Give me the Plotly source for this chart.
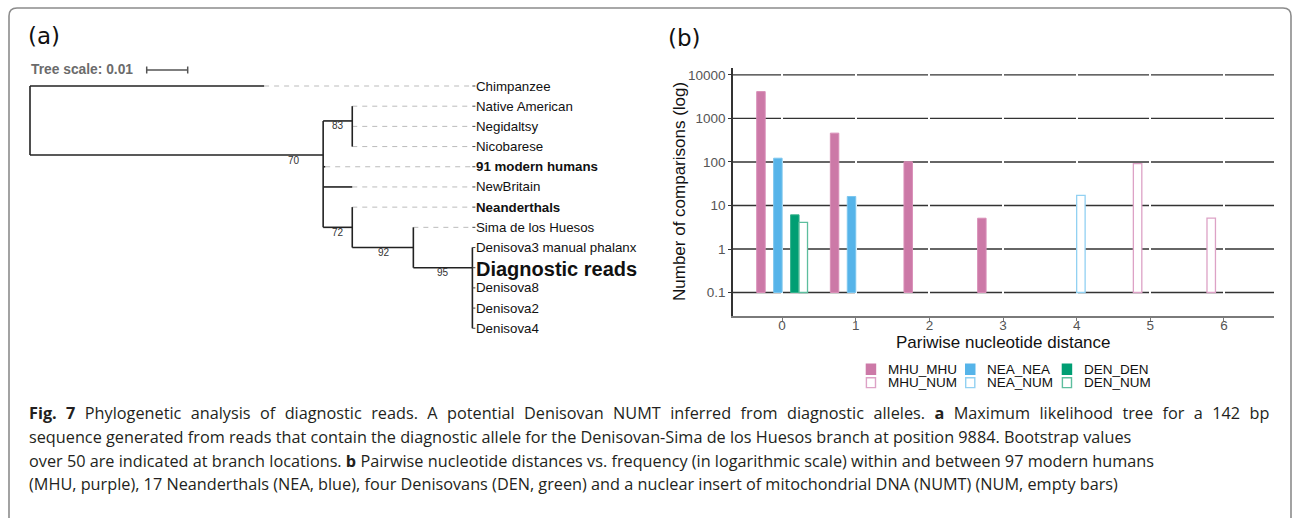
import plotly.graph_objects as go

W, H = 1293, 518

# ---------------- panel (b) data ----------------
distances = [0, 1, 2, 3, 4, 5, 6]
x_tick_text = ["0", "1", "2", "3", "4", "5", "6"]
series_names = ["MHU_MHU", "MHU_NUM", "NEA_NEA", "NEA_NUM", "DEN_DEN", "DEN_NUM"]
mhu_mhu = [4140, 460, 101, 5, None, None, None]
mhu_num = [None, None, None, None, None, 92, 5]
nea_nea = [122, 16, None, None, None, None, None]
nea_num = [None, None, None, None, 17, None, None]
den_den = [6, None, None, None, None, None, None]
den_num = [4, None, None, None, None, None, None]
bar_base = 0.1
y_tick_vals = [0.1, 1, 10, 100, 1000, 10000]
y_tick_text = ["0.1", "1", "10", "100", "1000", "10000"]

# ---------------- panel (a) data ----------------
leaf_names = ["Chimpanzee", "Native American", "Negidaltsy", "Nicobarese",
              "91 modern humans", "NewBritain", "Neanderthals",
              "Sima de los Huesos", "Denisova3 manual phalanx",
              "Diagnostic reads", "Denisova8", "Denisova2", "Denisova4"]
leaf_parent = ["root", "N83", "N83", "N83", "A", "A", "N72", "N92",
               "N95", "N95", "N95", "N95", "N95"]
leaf_depth = [0.0571, 0.0786, 0.0786, 0.0786, 0.0720, 0.0786, 0.0786,
              0.0935, 0.1079, 0.1079, 0.1079, 0.1079, 0.1079]
leaf_bold = [False, False, False, False, True, False, True, False,
             False, True, False, False, False]
node_names = ["root", "A", "N83", "N72", "N92", "N95"]
node_parent = [None, "root", "A", "A", "N72", "N92"]
node_depth = [0.0, 0.0715, 0.0786, 0.0786, 0.0935, 0.1079]
node_row = [1.7, 3.42, 1.73, 7.0, 8.0, 9.0]
node_support = [None, 70, 83, 72, 92, 95]
tree_scale = 0.01

# ---------------- helpers (layout) ----------------
def px(x):
    return x / W

def py(y):
    return 1 - y / H

PX_PER_UNIT = 4100.0
ROW_PX = 20.19
ROW0_PX = 86.0
TREE_X0 = 30.0

COL = {"MHU": "#CC79A7", "NEA": "#56B4E9", "DEN": "#009E73"}
EDGE_FILLED = {"MHU": "#D98FB8", "NEA": "#7CC6EE", "DEN": "#33B08A"}
EDGE_EMPTY = {"MHU": "#DDA2C6", "NEA": "#92D1F2", "DEN": "#5DBE9E"}
AX_FONT = "Liberation Sans, Arial, sans-serif"

fig = go.Figure()

# ---------------- bars ----------------
series_vals = [mhu_mhu, mhu_num, nea_nea, nea_num, den_den, den_num]
for name, vals in zip(series_names, series_vals):
    grp, kind = name.split("_")
    empty = kind == "NUM"
    fig.add_trace(go.Bar(
        x=distances, y=vals, base=bar_base, name=name,
        marker=dict(color="white" if empty else COL[grp],
                    line=dict(color=EDGE_EMPTY[grp] if empty else EDGE_FILLED[grp],
                              width=1.3 if empty else 1)),
        showlegend=False, xaxis="x", yaxis="y"))

# ---------------- tree ----------------
depth_of = dict(zip(node_names, node_depth))
row_of = dict(zip(node_names, node_row))
align = max(leaf_depth)

solid_x, solid_y = [], []
dash_x, dash_y = [], []
stub_x, stub_y = [], []

def seg(xs, ys, x0, y0, x1, y1):
    xs += [x0, x1, None]
    ys += [y0, y1, None]

children_rows = {n: [] for n in node_names}
for i, (nm, par, d) in enumerate(zip(leaf_names, leaf_parent, leaf_depth)):
    seg(solid_x, solid_y, depth_of[par], i, d, i)
    children_rows[par].append(i)
    if d < align:
        seg(dash_x, dash_y, d, i, align, i)
    seg(stub_x, stub_y, align, i, align + 3 / PX_PER_UNIT, i)
for nm, par in zip(node_names, node_parent):
    if par is not None:
        seg(solid_x, solid_y, depth_of[par], row_of[nm], depth_of[nm], row_of[nm])
        children_rows[par].append(row_of[nm])
for nm in node_names:
    rows = children_rows[nm]
    seg(solid_x, solid_y, depth_of[nm], min(rows), depth_of[nm], max(rows))

fig.add_trace(go.Scatter(x=dash_x, y=dash_y, mode="lines",
                         line=dict(color="#BBBBBB", width=1, dash="5px,5px"),
                         showlegend=False, hoverinfo="skip", xaxis="x2", yaxis="y2"))
fig.add_trace(go.Scatter(x=solid_x, y=solid_y, mode="lines",
                         line=dict(color="#222222", width=1.6),
                         showlegend=False, hoverinfo="skip", xaxis="x2", yaxis="y2"))
fig.add_trace(go.Scatter(x=stub_x, y=stub_y, mode="lines",
                         line=dict(color="#444444", width=1),
                         showlegend=False, hoverinfo="skip", xaxis="x2", yaxis="y2"))

# tree scale bar
sb_x0 = (146.7 - TREE_X0) / PX_PER_UNIT
sb_row = (70 - ROW0_PX) / ROW_PX
tick_h = 3.5 / ROW_PX
fig.add_trace(go.Scatter(
    x=[sb_x0, sb_x0 + tree_scale, None, sb_x0, sb_x0, None, sb_x0 + tree_scale, sb_x0 + tree_scale],
    y=[sb_row, sb_row, None, sb_row - tick_h, sb_row + tick_h, None, sb_row - tick_h, sb_row + tick_h],
    mode="lines", line=dict(color="#555555", width=1.5),
    showlegend=False, hoverinfo="skip", xaxis="x2", yaxis="y2"))

annotations = []

# leaf labels
for i, (nm, b) in enumerate(zip(leaf_names, leaf_bold)):
    big = nm == "Diagnostic reads"
    annotations.append(dict(
        x=align, y=i, xref="x2", yref="y2", xanchor="left", yanchor="middle",
        xshift=2, yshift=-1 if big else 0, showarrow=False,
        text=f"<b>{nm}</b>" if b else nm,
        font=dict(family=AX_FONT, size=20 if big else 13.3, color="#111111")))

# bootstrap labels
for nm, par, d, r, s in zip(node_names, node_parent, node_depth, node_row, node_support):
    if s is None:
        continue
    pdp = depth_of[par]
    xl = max((pdp + d) / 2, d - 29 / PX_PER_UNIT)
    annotations.append(dict(
        x=xl, y=r, xref="x2", yref="y2", xanchor="center", yanchor="middle",
        yshift=-5, showarrow=False, text=str(s),
        font=dict(family=AX_FONT, size=10, color="#333333")))

annotations.append(dict(x=px(29), y=py(70), xref="paper", yref="paper",
                        xanchor="left", yanchor="middle", showarrow=False,
                        text="<b>Tree scale: 0.01</b>",
                        font=dict(family=AX_FONT, size=13.8, color="#6b6b6b")))

# panel letters
annotations.append(dict(x=px(26), y=py(36), xref="paper", yref="paper",
                        xanchor="left", yanchor="middle", showarrow=False, text="(a)",
                        font=dict(family="DejaVu Sans", size=23, color="#111111")))
annotations.append(dict(x=px(666), y=py(38), xref="paper", yref="paper",
                        xanchor="left", yanchor="middle", showarrow=False, text="(b)",
                        font=dict(family="DejaVu Sans", size=23, color="#111111")))

# axis titles
annotations.append(dict(x=px(680), y=py(192), xref="paper", yref="paper",
                        xanchor="center", yanchor="middle", showarrow=False,
                        textangle=-90, text="Number of comparisons (log)",
                        font=dict(family=AX_FONT, size=17, color="#111111")))
annotations.append(dict(x=px(1003), y=py(342.5), xref="paper", yref="paper",
                        xanchor="center", yanchor="middle", showarrow=False,
                        text="Pariwise nucleotide distance",
                        font=dict(family=AX_FONT, size=17, color="#111111")))

# legend (manual 2 x 3 layout)
shapes = []
leg_cols = [("MHU", 865.7, 885.5), ("NEA", 965.0, 985.5), ("DEN", 1061.7, 1082.3)]
leg_rows = [("", 363.5, 375.0, 369.3), ("NUM", 377.0, 388.3, 382.5)]
for grp, kx, tx in leg_cols:
    for kind, y0, y1, ty in leg_rows:
        empty = kind == "NUM"
        label = f"{grp}_{'NUM' if empty else grp}"
        shapes.append(dict(type="rect", xref="paper", yref="paper",
                           x0=px(kx + (0.7 if empty else 0)), x1=px(kx + 10.5 - (0.7 if empty else 0)),
                           y0=py(y1 - (0.7 if empty else 0)), y1=py(y0 + (0.7 if empty else 0)),
                           fillcolor="white" if empty else COL[grp],
                           line=dict(color=EDGE_EMPTY[grp] if empty else COL[grp],
                                     width=1.4 if empty else 0)))
        annotations.append(dict(x=px(tx), y=py(ty), xref="paper", yref="paper",
                                xanchor="left", yanchor="middle", showarrow=False,
                                text=label,
                                font=dict(family=AX_FONT, size=13.5, color="#111111")))

# horizontal grid lines (drawn beneath the white vertical x-grid so they show gaps at ticks)
for v in y_tick_vals:
    shapes.append(dict(type="line", xref="paper", yref="y", x0=px(733), x1=px(1274),
                       y0=v, y1=v, line=dict(color="#333333", width=1.3), layer="below"))

# frame
fx0, fx1, fy0, r = 9, 1291, 8, 8
path = (f"M {px(fx0)},{py(H + 5)} L {px(fx0)},{py(fy0 + r)} "
        f"Q {px(fx0)},{py(fy0)} {px(fx0 + r)},{py(fy0)} "
        f"L {px(fx1 - r)},{py(fy0)} Q {px(fx1)},{py(fy0)} {px(fx1)},{py(fy0 + r)} "
        f"L {px(fx1)},{py(H + 5)}")
shapes.append(dict(type="path", xref="paper", yref="paper", path=path,
                   line=dict(color="#8c8c8c", width=1.6)))

# caption (first line is justified in the original)
caption_lines = [
    "<span style=\"word-spacing:5.2px\"><b>Fig. 7</b> Phylogenetic analysis of diagnostic reads. A potential Denisovan NUMT inferred from diagnostic alleles. <b>a</b> Maximum likelihood tree for a 142 bp</span>",
    "sequence generated from reads that contain the diagnostic allele for the Denisovan-Sima de los Huesos branch at position 9884. Bootstrap values",
    "over 50 are indicated at branch locations. <b>b</b> Pairwise nucleotide distances vs. frequency (in logarithmic scale) within and between 97 modern humans",
    "(MHU, purple), 17 Neanderthals (NEA, blue), four Denisovans (DEN, green) and a nuclear insert of mitochondrial DNA (NUMT) (NUM, empty bars)",
]
caption_y = [413, 437, 460.5, 484]
for txt, cy in zip(caption_lines, caption_y):
    annotations.append(dict(x=px(26.5), y=py(cy), xref="paper", yref="paper",
                            xanchor="left", yanchor="middle", showarrow=False, text=txt,
                            font=dict(family="Open Sans", size=16.25, color="#231f20")))

fig.update_layout(
    width=W, height=H, margin=dict(l=0, r=0, t=0, b=0),
    paper_bgcolor="white", plot_bgcolor="rgba(0,0,0,0)",
    barmode="group", bargap=0.31, bargroupgap=0,
    xaxis=dict(domain=[px(733), px(1274)], range=[-0.667, 6.68],
               tickvals=distances, ticktext=x_tick_text,
               showgrid=True, gridcolor="white", gridwidth=2, zeroline=False,
               showline=True, linecolor="#7a7a7a", linewidth=2,
               ticks="outside", ticklen=3, tickcolor="#7a7a7a",
               ticklabelstandoff=-7,
               tickfont=dict(family=AX_FONT, size=13.5, color="#555555"),
               anchor="y", fixedrange=True),
    yaxis=dict(domain=[py(316), py(68)], type="log", range=[-1.54, 4.16],
               tickvals=y_tick_vals, ticktext=y_tick_text,
               showgrid=False, zeroline=False,
               showline=True, linecolor="#333333", linewidth=1.5,
               ticks="outside", ticklen=3, tickcolor="#333333",
               tickfont=dict(family=AX_FONT, size=13.5, color="#555555"),
               anchor="x", fixedrange=True),
    xaxis2=dict(domain=[0, 1], range=[-TREE_X0 / PX_PER_UNIT, (W - TREE_X0) / PX_PER_UNIT],
                visible=False, anchor="y2", fixedrange=True),
    yaxis2=dict(domain=[0, 1], range=[(H - ROW0_PX) / ROW_PX, -ROW0_PX / ROW_PX],
                visible=False, anchor="x2", fixedrange=True),
    annotations=annotations, shapes=shapes,
)

fig.write_html("out.html")
